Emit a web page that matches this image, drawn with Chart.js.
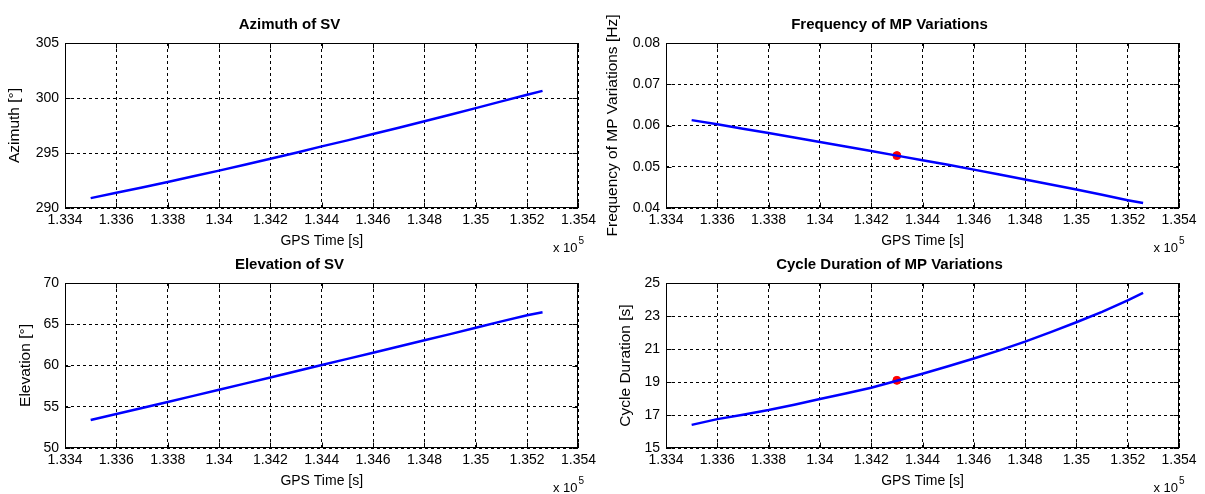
<!DOCTYPE html>
<html>
<head>
<meta charset="utf-8">
<script src="https://cdn.jsdelivr.net/npm/chart.js@4.4.0/dist/chart.umd.min.js"></script>
<style>
  body { margin: 0; background: #fff; }
  canvas { position: absolute; }
</style>
</head>
<body>
<canvas id="azimuth" width="600" height="254" style="left:0;top:0"></canvas>
<canvas id="frequency" width="605" height="254" style="left:600px;top:0"></canvas>
<canvas id="elevation" width="600" height="254" style="left:0;top:240px"></canvas>
<canvas id="cycle" width="605" height="254" style="left:600px;top:240px"></canvas>
<script>
// GPS time in seconds (axis shows it in units of 10^5)
var gpsTime = [133500, 133600, 133700, 133800, 133900, 134000, 134100, 134200, 134300, 134400,
               134500, 134600, 134700, 134800, 134900, 135000, 135100, 135200, 135260];
var azimuth = [290.90, 291.38, 291.87, 292.37, 292.88, 293.40, 293.93, 294.47, 295.02, 295.60,
               296.15, 296.72, 297.30, 297.89, 298.48, 299.08, 299.69, 300.30, 300.65];
var elevation = [53.40, 54.12, 54.85, 55.58, 56.32, 57.06, 57.80, 58.55, 59.30, 60.05,
                 60.80, 61.55, 62.30, 63.05, 63.80, 64.58, 65.35, 66.10, 66.45];
var mpFrequency = [0.0613, 0.0603, 0.0592, 0.0582, 0.0571, 0.0560, 0.0549, 0.0538, 0.0527, 0.0516,
                   0.0505, 0.0493, 0.0481, 0.0469, 0.0457, 0.0445, 0.0432, 0.0419, 0.0412];
var cycleDuration = [16.40, 16.75, 17.02, 17.30, 17.62, 17.97, 18.30, 18.65, 19.08, 19.50,
                     19.95, 20.42, 20.92, 21.45, 22.02, 22.62, 23.25, 23.95, 24.40];
// highlighted sample (red dot)
var markerTime = 134300;
var markerFrequency = 0.0527;
var markerCycle = 19.1;

var FONT = '"Liberation Sans", Arial, Helvetica, sans-serif';

function fmt(v) {
  return String(Number(v.toFixed(4)));
}

function pts(ys) {
  return gpsTime.map(function(t, i) { return {x: t, y: ys[i]}; });
}

// axes box, inward tick marks and the "x 10^5" exponent label
var boxPlugin = {
  id: 'box',
  beforeDatasetsDraw: function(chart) {
    var ctx = chart.ctx, a = chart.chartArea;
    var l = Math.round(a.left) + 0.5, t = Math.round(a.top) + 0.5;
    var r = Math.round(a.right) - 0.5, b = Math.round(a.bottom) - 0.5;
    ctx.save();
    ctx.setLineDash([]);
    ctx.strokeStyle = '#000';
    ctx.lineWidth = 1;
    ctx.strokeRect(l, t, r - l, b - t);
    ctx.beginPath();
    chart.scales.x.ticks.forEach(function(tk) {
      var px = Math.round(chart.scales.x.getPixelForValue(tk.value)) + 0.5;
      ctx.moveTo(px, b); ctx.lineTo(px, b - 5);
      ctx.moveTo(px, t); ctx.lineTo(px, t + 5);
    });
    chart.scales.y.ticks.forEach(function(tk) {
      var py = Math.round(chart.scales.y.getPixelForValue(tk.value)) + 0.5;
      ctx.moveTo(l, py); ctx.lineTo(l + 5, py);
      ctx.moveTo(r, py); ctx.lineTo(r - 5, py);
    });
    ctx.stroke();
    ctx.restore();
  },
  afterDraw: function(chart) {
    var ctx = chart.ctx, a = chart.chartArea;
    ctx.save();
    ctx.fillStyle = '#000';
    ctx.textBaseline = 'middle';
    ctx.textAlign = 'right';
    ctx.font = '13px ' + FONT;
    ctx.fillText('x 10', a.right - 1, a.bottom + 40);
    ctx.textAlign = 'left';
    ctx.font = '10px ' + FONT;
    ctx.fillText('5', a.right, a.bottom + 33);
    ctx.restore();
  }
};

function makeChart(id, values, title, yLabel, yMin, yMax, yStep, yTitlePad, yWidth, padRight, marker) {
  var datasets = [{
    data: pts(values),
    borderColor: '#0000ff',
    borderWidth: 2.5,
    pointRadius: 0,
    tension: 0
  }];
  if (marker) {
    datasets.push({
      data: [{x: markerTime, y: marker}],
      showLine: false,
      pointRadius: 4,
      pointBackgroundColor: '#ff0000',
      pointBorderColor: '#ff0000'
    });
  }
  return new Chart(document.getElementById(id), {
    type: 'line',
    data: {datasets: datasets},
    plugins: [boxPlugin],
    options: {
      responsive: false,
      animation: false,
      devicePixelRatio: 1,
      layout: {padding: {left: 0, right: padRight, top: 0, bottom: 0}},
      plugins: {
        legend: {display: false},
        tooltip: {enabled: false},
        title: {
          display: true,
          text: title,
          color: '#000',
          font: {family: FONT, size: 15, weight: 'bold', lineHeight: 1.2},
          padding: {top: 16, bottom: 9}
        }
      },
      scales: {
        x: {
          type: 'linear',
          min: 133400,
          max: 135400,
          afterFit: function(s) { s.height = 46; },
          ticks: {
            stepSize: 200,
            autoSkip: false,
            maxRotation: 0,
            padding: 4,
            color: '#000',
            font: {family: FONT, size: 14},
            callback: function(v) { return fmt(v / 1e5); }
          },
          grid: {color: '#000', lineWidth: 1, drawTicks: false},
          border: {display: false, dash: [3, 3]},
          title: {
            display: true,
            text: 'GPS Time [s]',
            color: '#000',
            font: {family: FONT, size: 14},
            padding: {top: 0, bottom: 4}
          }
        },
        y: {
          type: 'linear',
          min: yMin,
          max: yMax,
          afterFit: function(s) { s.width = yWidth; },
          ticks: {
            stepSize: yStep,
            padding: 6,
            color: '#000',
            font: {family: FONT, size: 14},
            callback: function(v) { return fmt(v); }
          },
          grid: {color: '#000', lineWidth: 1, drawTicks: false},
          border: {display: false, dash: [3, 3]},
          title: {
            display: true,
            text: yLabel,
            color: '#000',
            font: {family: FONT, size: 15.5},
            padding: {top: yTitlePad, bottom: 0}
          }
        }
      }
    }
  });
}

makeChart('azimuth', azimuth, 'Azimuth of SV', 'Azimuth [°]', 290, 305, 5, 5.7, 65, 21, null);
makeChart('frequency', mpFrequency, 'Frequency of MP Variations', 'Frequency of MP Variations [Hz]', 0.04, 0.08, 0.01, 3.7, 66, 26, markerFrequency);
makeChart('elevation', elevation, 'Elevation of SV', 'Elevation [°]', 50, 70, 5, 16.7, 65, 21, null);
makeChart('cycle', cycleDuration, 'Cycle Duration of MP Variations', 'Cycle Duration [s]', 15, 25, 2, 16.7, 66, 26, markerCycle);
</script>
</body>
</html>
